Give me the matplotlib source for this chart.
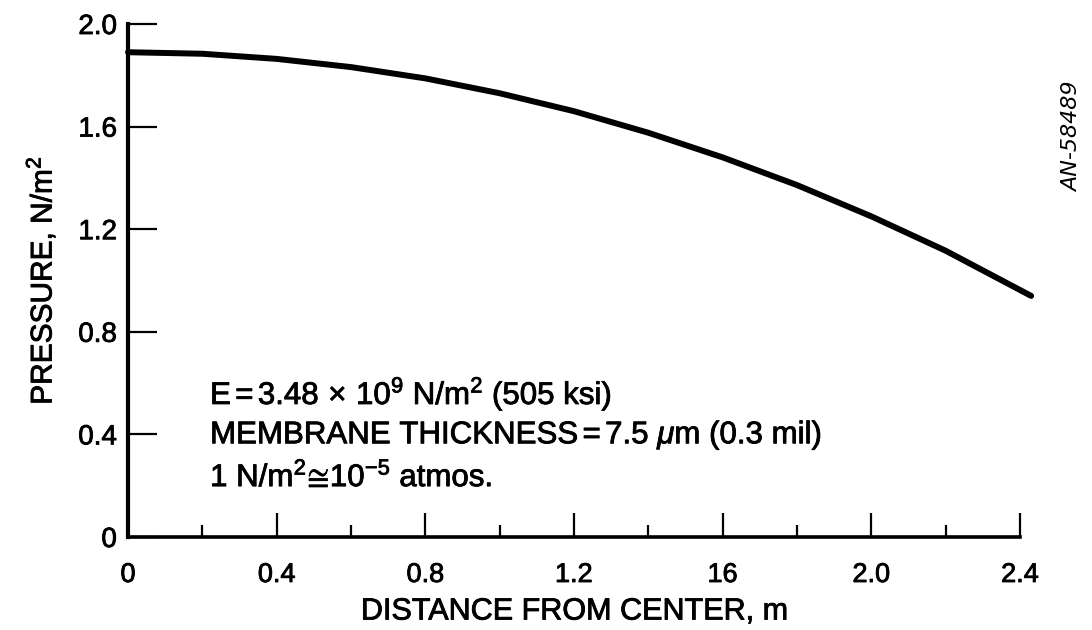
import matplotlib
matplotlib.use('Agg')
import matplotlib.pyplot as plt
import matplotlib.patheffects as pe

# Pressure profile across the membrane
distance = [0.0, 0.2, 0.4, 0.6, 0.8, 1.0, 1.2, 1.4, 1.6, 1.8, 2.0, 2.2, 2.43]
pressure = [1.890, 1.884, 1.864, 1.832, 1.788, 1.730, 1.660, 1.576,
            1.480, 1.372, 1.250, 1.116, 0.940]

x_ticks = [0, 0.4, 0.8, 1.2, 1.6, 2.0, 2.4]
x_tick_labels = ['0', '0.4', '0.8', '1.2', '16', '2.0', '2.4']
x_minor = [0.2, 0.6, 1.0, 1.4, 1.8, 2.2]
y_ticks = [0, 0.4, 0.8, 1.2, 1.6, 2.0]
y_tick_labels = ['0', '0.4', '0.8', '1.2', '1.6', '2.0']

notes = [
    r'E$\,$=$\,$3.48$\,\times\,$10$^{9}$ N/m$^{2}$ (505 ksi)',
    r'MEMBRANE THICKNESS$\,$=$\,$7.5 $\mu$m (0.3 mil)',
    r'1 N/m$^{2}$$\!\cong\!$10$^{-5}$ atmos.',
]

# slightly heavier strokes for the printed lettering
INK = [pe.withStroke(linewidth=0.6, foreground='black')]


def main():
    plt.rcParams['font.family'] = ['Liberation Sans', 'DejaVu Sans']
    plt.rcParams['mathtext.fontset'] = 'custom'
    plt.rcParams['mathtext.rm'] = 'Liberation Sans'
    plt.rcParams['mathtext.it'] = 'Liberation Sans:italic'

    fig = plt.figure(figsize=(10.92, 6.3), dpi=100)
    ax = fig.add_axes([128 / 1092, 93 / 630, 892 / 1092, 513 / 630])

    ax.plot(distance, pressure, color='black', lw=4.3,
            solid_capstyle='round', clip_on=False)

    # Axes
    ax.set_xlim(0, 2.4)
    ax.set_ylim(0, 2.0)
    for side in ('top', 'right'):
        ax.spines[side].set_visible(False)
    ax.spines['left'].set_linewidth(3)
    ax.spines['bottom'].set_linewidth(2.6)

    ax.set_xticks(x_ticks)
    ax.set_xticklabels(x_tick_labels)
    ax.set_xticks(x_minor, minor=True)
    ax.set_yticks(y_ticks)
    ax.set_yticklabels(y_tick_labels)

    ax.tick_params(axis='x', which='major', direction='in', length=17,
                   width=1.6, pad=18, labelsize=19.5)
    ax.tick_params(axis='x', which='minor', direction='in', length=9,
                   width=1.6)
    ax.tick_params(axis='y', which='major', direction='in', length=21,
                   width=1.6, pad=8, labelsize=20)

    ax.set_xlabel('DISTANCE FROM CENTER, m', fontsize=22)
    ax.xaxis.set_label_coords(0.5, -0.116)
    ax.set_ylabel(r'PRESSURE, N/m$^{2}$', fontsize=21.5)
    ax.yaxis.set_label_coords(-0.079, 0.5)

    # Material notes
    for i, line in enumerate(notes):
        ax.text(0.092, 0.279 - i * 0.081, line, transform=ax.transAxes,
                fontsize=22.5, va='center', ha='left', path_effects=INK)

    fig.text(1072 / 1092, 1 - 137 / 630, 'AN-58489', rotation=90,
             fontsize=16, style='italic', ha='center', va='center',
             family='DejaVu Sans')

    labels = ax.get_xticklabels() + ax.get_yticklabels()
    labels += [ax.xaxis.label, ax.yaxis.label]
    for t in labels:
        t.set_path_effects(INK)

    fig.savefig('out.png', dpi=100)


if __name__ == '__main__':
    main()
